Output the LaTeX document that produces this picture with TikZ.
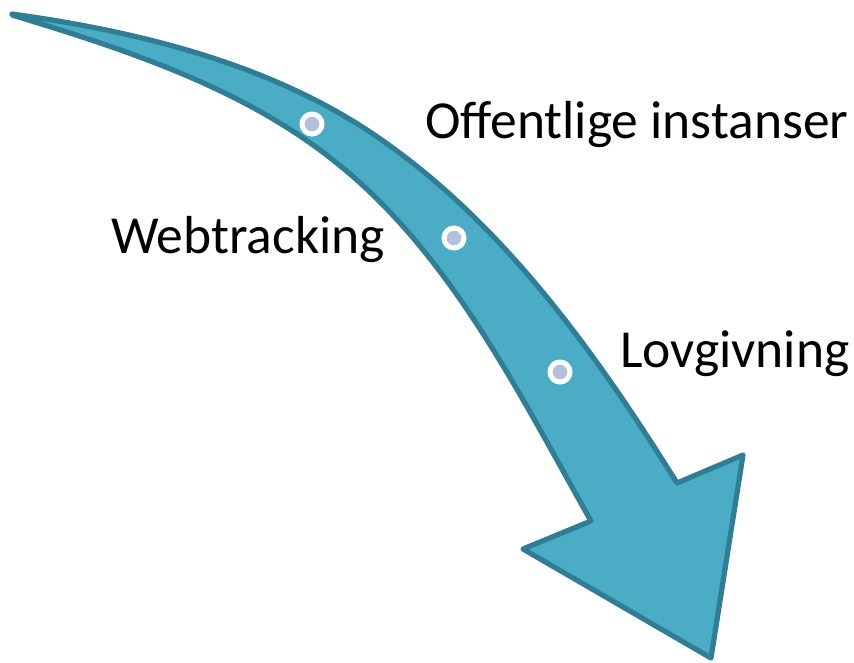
\documentclass[tikz,border=0pt]{standalone}
\usepackage{fontspec}
\setmainfont{Carlito}
\definecolor{arrowfill}{HTML}{4BACC6}
\definecolor{arrowline}{HTML}{2F7E95}
\definecolor{dotfill}{HTML}{B2C0DC}
\begin{document}
\begin{tikzpicture}[x=1pt,y=-1pt,
  arrowshape/.style={fill=arrowfill,draw=arrowline,line width=5.2pt,line join=round},
  dotmark/.style={circle,fill=dotfill,draw=white,line width=5pt,minimum size=20pt,inner sep=0pt},
  label/.style={font=\fontsize{53.5}{60}\selectfont,inner sep=0pt,anchor=base west}]
\useasboundingbox (0,0) rectangle (854,662);
\coordinate (tail) at (12,14);
\coordinate (um) at (367,130);
\coordinate (rn) at (677,483);
\coordinate (rw) at (743,455);
\coordinate (tip) at (711,658);
\coordinate (lw) at (523,549);
\coordinate (ln) at (591,521);
\coordinate (lm) at (333,160);
\draw[arrowshape]
  (tail) .. controls (135,31) and (263,62) .. (um)
  .. controls (498,216) and (594,350) .. (rn)
  -- (rw) -- (tip) -- (lw) -- (ln)
  .. controls (518,392) and (450,252) .. (lm)
  .. controls (241,87) and (124,49) .. (12,15)
  -- cycle;
\node[dotmark] (d1) at (312,124) {};
\node[dotmark] (d2) at (454,238) {};
\node[dotmark] (d3) at (560,372) {};
\node[label] (t1) at (425,138) {Offentlige instanser};
\node[label] (t2) at (111,253) {Webtracking};
\node[label] (t3) at (620,367) {Lovgivning};
\end{tikzpicture}
\end{document}
